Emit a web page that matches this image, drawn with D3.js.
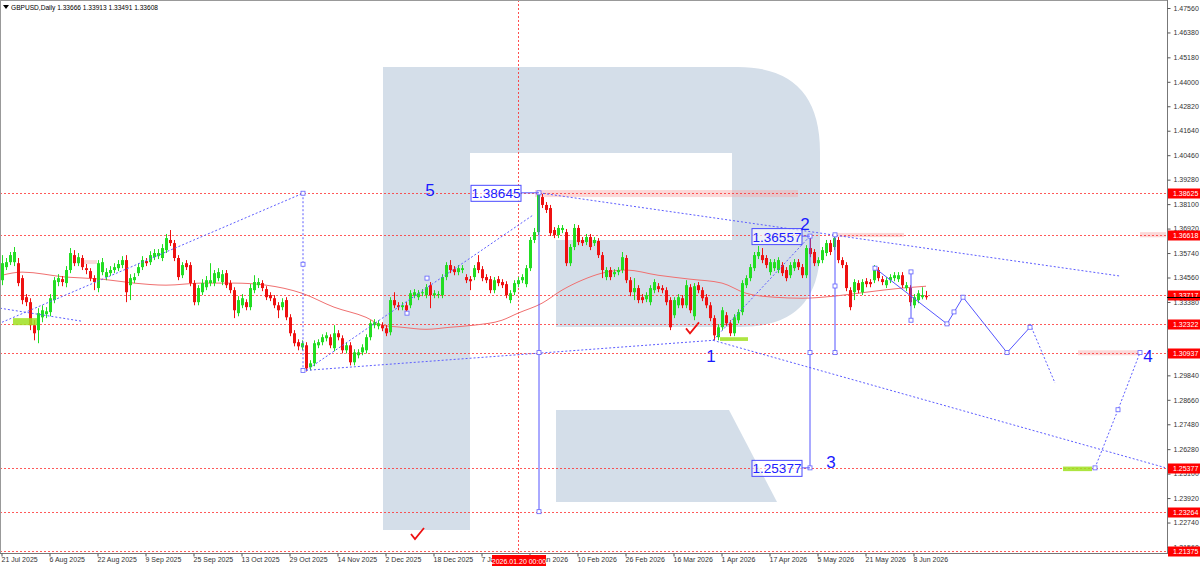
<!DOCTYPE html>
<html><head><meta charset="utf-8">
<script src="https://cdn.jsdelivr.net/npm/d3@7/dist/d3.min.js"></script>
<style>body{margin:0;background:#fff;}svg{display:block;font-family:"Liberation Sans",Arial,sans-serif;}</style>
</head><body><svg id="c" width="1200" height="569"></svg>
<script>
// ---------- DATA ----------
const symbolTitle = "GBPUSD,Daily";
const headerOHLC = ["1.33666", "1.33913", "1.33491", "1.33608"];
const dateTickLabels = ["21 Jul 2025","6 Aug 2025","22 Aug 2025","9 Sep 2025","25 Sep 2025","13 Oct 2025","29 Oct 2025","14 Nov 2025","2 Dec 2025","18 Dec 2025","7 Jan 2026","23 Jan 2026","10 Feb 2026","26 Feb 2026","16 Mar 2026","1 Apr 2026","17 Apr 2026","5 May 2026","21 May 2026","8 Jun 2026"];
const barsPerDateTick = 12;
const priceTicks = [1.47560,1.46380,1.45180,1.44000,1.42820,1.41640,1.40460,1.39280,1.38100,1.36920,1.35740,1.34560,1.33380,1.32200,1.31020,1.29840,1.28660,1.27480,1.26280,1.25100,1.23920,1.22740,1.21560];
const levelPrices = [1.38625,1.36618,1.33717,1.32322,1.30937,1.25377,1.23264,1.21375];
const crosshairIndex = 129;  // 2026.01.20
const crosshairLabel = "2026.01.20 00:00";

const opens = [1.3443,1.3506,1.3530,1.3530,1.3525,1.3453,1.3361,1.3337,1.3226,1.3202,
1.3264,1.3279,1.3289,1.3347,1.3434,1.3448,1.3429,1.3492,1.3564,1.3525,
1.3550,1.3501,1.3487,1.3453,1.3405,1.3482,1.3458,1.3477,1.3492,1.3501,
1.3516,1.3540,1.3419,1.3443,1.3477,1.3506,1.3535,1.3530,1.3554,1.3559,
1.3550,1.3588,1.3637,1.3622,1.3550,1.3467,1.3525,1.3516,1.3429,1.3337,
1.3385,1.3409,1.3429,1.3429,1.3453,1.3434,1.3477,1.3429,1.3395,1.3284,
1.3322,1.3337,1.3313,1.3395,1.3419,1.3429,1.3400,1.3371,1.3356,1.3322,
1.3313,1.3347,1.3264,1.3187,1.3144,1.3119,1.3129,1.3023,1.3042,1.3129,
1.3144,1.3163,1.3168,1.3115,1.3187,1.3163,1.3105,1.3129,1.3047,1.3081,
1.3095,1.3105,1.3168,1.3226,1.3221,1.3226,1.3211,1.3192,1.3347,1.3322,
1.3313,1.3322,1.3322,1.3371,1.3361,1.3380,1.3371,1.3419,1.3371,1.3371,
1.3371,1.3458,1.3516,1.3496,1.3482,1.3492,1.3458,1.3448,1.3458,1.3530,
1.3496,1.3458,1.3448,1.3395,1.3448,1.3434,1.3424,1.3347,1.3385,1.3424,
1.3443,1.3424,1.3501,1.3637,1.3675,1.3844,1.3806,1.3791,1.3685,1.3661,
1.3685,1.3675,1.3525,1.3603,1.3695,1.3637,1.3627,1.3651,1.3622,1.3632,
1.3564,1.3458,1.3492,1.3472,1.3482,1.3492,1.3550,1.3443,1.3385,1.3405,
1.3361,1.3351,1.3337,1.3395,1.3414,1.3405,1.3395,1.3347,1.3274,1.3322,
1.3356,1.3322,1.3409,1.3269,1.3419,1.3395,1.3361,1.3322,1.3260,1.3168,
1.3216,1.3274,1.3235,1.3187,1.3250,1.3289,1.3419,1.3453,1.3501,1.3559,
1.3564,1.3550,1.3482,1.3501,1.3492,1.3516,1.3492,1.3467,1.3501,1.3530,
1.3506,1.3467,1.3598,1.3579,1.3525,1.3540,1.3574,1.3622,1.3603,1.3637,
1.3540,1.3516,1.3395,1.3385,1.3429,1.3385,1.3438,1.3434,1.3443,1.3492,
1.3448,1.3419,1.3443,1.3453,1.3448,1.3467,1.3405,1.3405,1.3322,1.3347,
1.3361,1.33666];
const highs = [1.3564,1.3550,1.3579,1.3603,1.3550,1.3467,1.3376,1.3356,1.3250,1.3308,
1.3322,1.3313,1.3376,1.3458,1.3472,1.3463,1.3511,1.3598,1.3588,1.3574,
1.3564,1.3521,1.3501,1.3467,1.3540,1.3550,1.3501,1.3511,1.3525,1.3540,
1.3559,1.3564,1.3472,1.3477,1.3525,1.3559,1.3550,1.3583,1.3593,1.3593,
1.3617,1.3666,1.3685,1.3637,1.3564,1.3530,1.3540,1.3530,1.3443,1.3419,
1.3448,1.3463,1.3525,1.3492,1.3501,1.3492,1.3492,1.3443,1.3409,1.3366,
1.3376,1.3351,1.3424,1.3467,1.3453,1.3443,1.3414,1.3385,1.3371,1.3337,
1.3356,1.3361,1.3279,1.3202,1.3158,1.3153,1.3144,1.3057,1.3153,1.3158,
1.3182,1.3192,1.3182,1.3226,1.3202,1.3177,1.3144,1.3144,1.3110,1.3110,
1.3134,1.3182,1.3250,1.3255,1.3250,1.3240,1.3226,1.3361,1.3385,1.3337,
1.3337,1.3337,1.3395,1.3400,1.3395,1.3400,1.3424,1.3434,1.3395,1.3390,
1.3472,1.3530,1.3540,1.3511,1.3516,1.3516,1.3472,1.3463,1.3516,1.3564,
1.3511,1.3472,1.3463,1.3458,1.3463,1.3448,1.3438,1.3395,1.3443,1.3458,
1.3472,1.3516,1.3651,1.3695,1.38645,1.3859,1.3820,1.3806,1.3699,1.3709,
1.3709,1.3690,1.3617,1.3714,1.3709,1.3651,1.3666,1.3666,1.3651,1.3646,
1.3579,1.3506,1.3506,1.3496,1.3506,1.3579,1.3564,1.3458,1.3453,1.3419,
1.3376,1.3385,1.3419,1.3448,1.3429,1.3419,1.3409,1.3361,1.3361,1.3376,
1.3371,1.3443,1.3424,1.3429,1.3434,1.3409,1.3376,1.3337,1.3274,1.3231,
1.3313,1.3289,1.3250,1.3279,1.3303,1.3443,1.3467,1.3521,1.3579,1.3608,
1.3598,1.3564,1.3545,1.3545,1.3554,1.3530,1.3506,1.3530,1.3545,1.3545,
1.3521,1.3612,1.36557,1.3593,1.3554,1.3603,1.3637,1.3637,1.36618,1.3651,
1.3554,1.3530,1.3409,1.3448,1.3443,1.3448,1.3453,1.3448,1.3516,1.3506,
1.3463,1.3458,1.3472,1.3482,1.3482,1.3482,1.3434,1.3419,1.3376,1.3395,
1.3409,1.33913];
const lows = [1.3419,1.3492,1.3516,1.3511,1.3414,1.3327,1.3318,1.3202,1.3153,1.3139,
1.3240,1.3260,1.3269,1.3332,1.3414,1.3414,1.3409,1.3477,1.3511,1.3511,
1.3492,1.3472,1.3438,1.3395,1.3385,1.3467,1.3443,1.3463,1.3477,1.3487,
1.3501,1.3337,1.3347,1.3429,1.3463,1.3492,1.3511,1.3516,1.3540,1.3545,
1.3535,1.3574,1.3608,1.3535,1.3443,1.3453,1.3492,1.3414,1.3322,1.3322,
1.3371,1.3395,1.3414,1.3414,1.3438,1.3419,1.3405,1.3380,1.3260,1.3269,
1.3308,1.3298,1.3298,1.3380,1.3405,1.3390,1.3347,1.3342,1.3308,1.3260,
1.3298,1.3250,1.3173,1.3124,1.3105,1.3105,1.3003,1.3008,1.3028,1.3115,
1.3129,1.3148,1.3115,1.3100,1.3153,1.3090,1.3090,1.3032,1.3032,1.3066,
1.3081,1.3090,1.3153,1.3211,1.3206,1.3197,1.3173,1.3177,1.3308,1.3298,
1.3298,1.3284,1.3308,1.3356,1.3347,1.3366,1.3356,1.3308,1.3356,1.3356,
1.3356,1.3443,1.3477,1.3467,1.3467,1.3477,1.3429,1.3395,1.3443,1.3477,
1.3438,1.3429,1.3380,1.3380,1.3414,1.3405,1.3356,1.3332,1.3371,1.3409,
1.3429,1.3409,1.3487,1.3622,1.3661,1.3791,1.3767,1.3656,1.3646,1.3646,
1.3670,1.3511,1.3511,1.3588,1.3612,1.3608,1.3612,1.3588,1.3608,1.3550,
1.3453,1.3443,1.3443,1.3458,1.3467,1.3477,1.3429,1.3366,1.3347,1.3332,
1.3332,1.3337,1.3322,1.3380,1.3385,1.3380,1.3322,1.3202,1.3260,1.3308,
1.3308,1.3308,1.3284,1.3250,1.3380,1.3342,1.3308,1.3245,1.3153,1.3153,
1.3202,1.3221,1.3173,1.3173,1.3235,1.3274,1.3405,1.3438,1.3487,1.3545,
1.3525,1.3501,1.3467,1.3487,1.3477,1.3463,1.3438,1.3453,1.3487,1.3492,
1.3453,1.3453,1.3554,1.3511,1.3511,1.3525,1.3559,1.3564,1.3588,1.3525,
1.3501,1.3390,1.3298,1.3347,1.3380,1.3371,1.3409,1.3409,1.3429,1.3438,
1.3419,1.3405,1.3429,1.3438,1.3434,1.3405,1.3390,1.3318,1.3308,1.3332,
1.3351,1.33491];
const closes = [1.3525,1.3530,1.3564,1.3579,1.3429,1.3347,1.3337,1.3226,1.3187,1.3284,
1.3298,1.3293,1.3356,1.3443,1.3453,1.3434,1.3492,1.3574,1.3525,1.3554,
1.3506,1.3492,1.3453,1.3434,1.3525,1.3530,1.3482,1.3492,1.3506,1.3521,
1.3540,1.3385,1.3453,1.3458,1.3506,1.3540,1.3525,1.3564,1.3574,1.3574,
1.3598,1.3646,1.3622,1.3550,1.3458,1.3516,1.3506,1.3429,1.3337,1.3405,
1.3429,1.3443,1.3443,1.3477,1.3482,1.3472,1.3419,1.3395,1.3298,1.3347,
1.3356,1.3313,1.3405,1.3434,1.3434,1.3405,1.3361,1.3356,1.3322,1.3298,
1.3337,1.3264,1.3187,1.3139,1.3124,1.3139,1.3018,1.3042,1.3139,1.3144,
1.3168,1.3177,1.3129,1.3187,1.3168,1.3105,1.3129,1.3047,1.3095,1.3095,
1.3119,1.3168,1.3235,1.3240,1.3235,1.3211,1.3187,1.3347,1.3322,1.3313,
1.3322,1.3298,1.3380,1.3385,1.3380,1.3385,1.3409,1.3371,1.3380,1.3376,
1.3458,1.3516,1.3492,1.3482,1.3501,1.3501,1.3443,1.3438,1.3501,1.3492,
1.3453,1.3443,1.3395,1.3443,1.3429,1.3419,1.3371,1.3380,1.3429,1.3443,
1.3458,1.3501,1.3637,1.3675,1.3854,1.3806,1.3782,1.3670,1.3661,1.3695,
1.3695,1.3525,1.3603,1.3695,1.3627,1.3622,1.3651,1.3603,1.3637,1.3564,
1.3492,1.3492,1.3458,1.3482,1.3492,1.3554,1.3443,1.3385,1.3405,1.3347,
1.3347,1.3371,1.3405,1.3434,1.3400,1.3395,1.3337,1.3216,1.3347,1.3361,
1.3322,1.3419,1.3298,1.3414,1.3395,1.3356,1.3322,1.3260,1.3177,1.3216,
1.3298,1.3235,1.3187,1.3264,1.3289,1.3429,1.3453,1.3506,1.3564,1.3579,
1.3540,1.3516,1.3530,1.3530,1.3540,1.3477,1.3453,1.3516,1.3530,1.3506,
1.3467,1.3598,1.3569,1.3525,1.3540,1.3588,1.3622,1.3579,1.3646,1.3540,
1.3516,1.3405,1.3313,1.3434,1.3395,1.3434,1.3424,1.3424,1.3501,1.3453,
1.3434,1.3443,1.3458,1.3467,1.3467,1.3419,1.3419,1.3337,1.3361,1.3380,
1.3371,1.33608];

// moving average: [bar index, price]
const maIndex = [0,5,16,25,33,41,50,58,66,75,83,91,95,100,106,112,118,125,129,135,140,145,150,156,164,172,180,186,193,200,208,216,225,231];
const maValue = [1.3467,1.3482,1.3458,1.3448,1.3429,1.3419,1.3429,1.3429,1.3419,1.3380,1.3313,1.3264,1.3226,1.3216,1.3206,1.3216,1.3226,1.3250,1.3284,1.3332,1.3395,1.3443,1.3477,1.3492,1.3467,1.3448,1.3429,1.3380,1.3361,1.3356,1.3366,1.3385,1.3405,1.3414];

// analysis drawings: points as [bar index, price]
const dottedLines = [
  [[-0.5,1.3308],[20,1.3245]],
  [[0,1.3240],[75.25,1.38625]],
  [[75.25,1.38625],[75.25,1.3008]],
  [[76,1.3008],[177.75,1.3153]],
  [[76,1.3008],[132.75,1.3757]],
  [[134.25,1.38645],[279.5,1.3463]],
  [[177.75,1.3153],[290.75,1.2539]],
  [[177.75,1.3153],[202,1.36557]],
  [[257,1.32322],[263.25,1.2947]],
  [[273.25,1.25377],[279,1.2818],[284.5,1.30937]]
];
const solidLines = [
  [[134.25,1.38645],[134.25,1.23264]],
  [[202,1.36557],[202,1.25377]],
  [[208.25,1.36618],[208.25,1.30937]],
  [[227.25,1.3483],[227.25,1.3250]],
  [[218.25,1.3501],[236.25,1.32322],[240.25,1.3361],[251.25,1.30937],[257,1.3216]]
];
const handlePoints = [[75.25,1.38625],[75.25,1.3008],[75.25,1.3520],[134.25,1.38645],[134.25,1.30937],[134.25,1.23264],[202,1.36557],[202,1.30937],[202,1.25377],[208.25,1.36618],[208.25,1.30937],[208.25,1.3415],[227.25,1.3483],[227.25,1.3250],[218.25,1.3501],[236.25,1.32322],[240.25,1.3361],[251.25,1.30937],[257,1.3216],[238,1.3290],[273.25,1.25377],[284.5,1.30937],[279,1.2818],[101.25,1.3284],[106.25,1.3453]];
const waveLabels = [["5",107,1.3849],["2",200.75,1.3685],["1",177.25,1.3047],["3",207.25,1.2537],["4",286.5,1.3047]];
const priceBoxes = [["1.38645",129.75,1.38645,134.25],["1.36557",200,1.36557,202],["1.25377",200,1.25377,202]];
const greenZones = [[2.75,8.75,1.3260,1.3226],[179.5,186.5,1.3168,1.3150],[265.25,272.5,1.2544,1.2522]];
const pinkZones = [[133.25,199,1.3878,1.3844],[208.5,225.5,1.3671,1.3651],[269,284,1.3105,1.3081],[20.25,23.75,1.3540,1.3521],[284.5,291,1.3675,1.3650]];
const checkMarks = [[103.75,1.2214],[172.5,1.3206]];

// ---------- CHART ----------
const svg = d3.select("#c");
const W = 1200, H = 569, plotRight = 1167, plotBottom = 553;
const x = d3.scaleLinear().domain([0, 231]).range([2, 926]);
const y = d3.scaleLinear().domain([1.21560, 1.47560]).range([547, 8]);
const X = i => Math.round(x(i));

svg.append("rect").attr("width", W).attr("height", H).attr("fill", "#fff");

// watermark logo (decoration)
const wm = svg.append("g").attr("fill", "#d4dee9");
wm.append("rect").attr("x", 383).attr("y", 67).attr("width", 87).attr("height", 463);
wm.append("path").attr("d", "M470,67 H738 Q820,67 820,152 V248 Q820,327 740,327 H556 V240 H732 V153 H470 Z");
wm.append("path").attr("d", "M556,410 H729 L777,502 H556 Z");

// pink zones
svg.append("g").selectAll("rect").data(pinkZones).join("rect")
  .attr("x", d => x(d[0])).attr("width", d => x(d[1]) - x(d[0]))
  .attr("y", d => y(d[2])).attr("height", d => y(d[3]) - y(d[2]))
  .attr("fill", "#f7a8a8").attr("opacity", 0.45);

// red dotted level lines
svg.append("g").selectAll("line").data(levelPrices).join("line")
  .attr("x1", 0).attr("x2", plotRight)
  .attr("y1", d => Math.round(y(d)) + 0.5).attr("y2", d => Math.round(y(d)) + 0.5)
  .attr("stroke", "#ff3030").attr("stroke-width", 1).attr("stroke-dasharray", "2,2").attr("opacity", 0.8);

// crosshair vertical
svg.append("line").attr("x1", X(crosshairIndex) + 0.5).attr("x2", X(crosshairIndex) + 0.5)
  .attr("y1", 0).attr("y2", plotBottom)
  .attr("stroke", "#ff3030").attr("stroke-dasharray", "2,2").attr("opacity", 0.85);

// moving average
svg.append("path").datum(maIndex.map((d, k) => [d, maValue[k]]))
  .attr("d", d3.line().x(d => x(d[0])).y(d => y(d[1])).curve(d3.curveMonotoneX))
  .attr("fill", "none").attr("stroke", "#f07070").attr("stroke-width", 1);

// candles
const bars = d3.range(closes.length).map(i => ({ i, o: opens[i], h: highs[i], l: lows[i], c: closes[i] }));
const up = "#22dd22", dn = "#ee1111";
const cg = svg.append("g");
cg.selectAll("line").data(bars).join("line")
  .attr("x1", d => X(d.i) + 0.5).attr("x2", d => X(d.i) + 0.5)
  .attr("y1", d => y(d.h)).attr("y2", d => y(d.l))
  .attr("stroke", d => d.c >= d.o ? up : dn).attr("stroke-width", 1);
cg.selectAll("rect").data(bars).join("rect")
  .attr("x", d => X(d.i) - 1).attr("width", 3)
  .attr("y", d => y(Math.max(d.o, d.c)))
  .attr("height", d => Math.max(1, Math.abs(y(d.o) - y(d.c))))
  .attr("fill", d => d.c >= d.o ? up : dn);

// green zones
svg.append("g").selectAll("rect").data(greenZones).join("rect")
  .attr("x", d => x(d[0])).attr("width", d => x(d[1]) - x(d[0]))
  .attr("y", d => y(d[2])).attr("height", d => y(d[3]) - y(d[2]))
  .attr("fill", "#9fe020").attr("opacity", 0.85);

// blue drawings
const ln = d3.line().x(d => x(d[0])).y(d => y(d[1]));
svg.append("g").selectAll("path").data(dottedLines).join("path")
  .attr("d", ln).attr("fill", "none").attr("stroke", "#5d5dff").attr("stroke-width", 1).attr("stroke-dasharray", "2,2");
svg.append("g").selectAll("path").data(solidLines).join("path")
  .attr("d", ln).attr("fill", "none").attr("stroke", "#5555ff").attr("stroke-width", 1);
svg.append("g").selectAll("rect").data(handlePoints).join("rect")
  .attr("x", d => x(d[0]) - 2).attr("y", d => y(d[1]) - 2).attr("width", 4).attr("height", 4)
  .attr("fill", "#fff").attr("stroke", "#6060ff").attr("stroke-width", 0.8);

// price boxes
const pb = svg.append("g").selectAll("g").data(priceBoxes).join("g");
pb.append("rect").attr("x", d => x(d[1]) - 50).attr("y", d => y(d[2]) - 7.5).attr("width", 50).attr("height", 16)
  .attr("fill", "#fff").attr("fill-opacity", 0.6).attr("stroke", "#4a4aff").attr("stroke-width", 1);
pb.append("text").attr("x", d => x(d[1]) - 25).attr("y", d => y(d[2]) + 5.5)
  .attr("text-anchor", "middle").attr("font-size", 13.5).attr("fill", "#2020ff").text(d => d[0]);
pb.append("line").attr("x1", d => x(d[1])).attr("x2", d => x(d[3]))
  .attr("y1", d => y(d[2])).attr("y2", d => y(d[2])).attr("stroke", "#5555ff");

// wave labels
svg.append("g").selectAll("text").data(waveLabels).join("text")
  .attr("x", d => x(d[1])).attr("y", d => y(d[2])).attr("text-anchor", "middle")
  .attr("font-size", 17).attr("fill", "#1a1aff").text(d => d[0]);

// check marks
svg.append("g").selectAll("path").data(checkMarks).join("path")
  .attr("transform", d => `translate(${x(d[0])},${y(d[1])})`)
  .attr("d", "M-6,-1 L-2,4 L7,-7").attr("fill", "none").attr("stroke", "#ee1111").attr("stroke-width", 1.8);

// frame / axes
svg.append("line").attr("x1", plotRight + 0.5).attr("x2", plotRight + 0.5).attr("y1", 0).attr("y2", plotBottom + 1).attr("stroke", "#777");
svg.append("line").attr("x1", 0).attr("x2", plotRight + 1).attr("y1", plotBottom + 0.5).attr("y2", plotBottom + 0.5).attr("stroke", "#777");
svg.append("line").attr("x1", 0.5).attr("x2", 0.5).attr("y1", 0).attr("y2", plotBottom).attr("stroke", "#999");
svg.append("line").attr("x1", 0).attr("x2", plotRight).attr("y1", 0.5).attr("y2", 0.5).attr("stroke", "#999");

const yAxis = svg.append("g").attr("transform", `translate(${plotRight + 0.5},0)`)
  .call(d3.axisRight(y).tickValues(priceTicks).tickFormat(d3.format(".5f")).tickSize(3).tickPadding(3));
yAxis.select(".domain").remove();
yAxis.selectAll("text").attr("font-size", 7).attr("fill", "#333").attr("font-family", "Liberation Sans, Arial, sans-serif");
yAxis.selectAll("line").attr("stroke", "#555");

const dateIdx = dateTickLabels.map((d, k) => k * barsPerDateTick);
const xAxis = svg.append("g").attr("transform", `translate(0,${plotBottom + 0.5})`)
  .call(d3.axisBottom(x).tickValues(dateIdx).tickFormat((d, k) => dateTickLabels[k]).tickSize(3).tickPadding(1));
xAxis.select(".domain").remove();
xAxis.selectAll("text").attr("font-size", 7).attr("fill", "#333").attr("text-anchor", "start").attr("dx", -1)
  .attr("font-family", "Liberation Sans, Arial, sans-serif");
xAxis.selectAll("line").attr("stroke", "#555").attr("transform", "translate(-0.5,0)");

// level price labels on axis
const lv = svg.append("g").selectAll("g").data(levelPrices).join("g");
lv.append("rect").attr("x", plotRight + 1).attr("y", d => Math.round(y(d)) - 4.5).attr("width", 33).attr("height", 10).attr("fill", "#ff0000");
lv.append("text").attr("x", plotRight + 6).attr("y", d => Math.round(y(d)) + 3).attr("font-size", 7).attr("fill", "#fff").text(d => d3.format(".5f")(d));

// current price marker
svg.append("line").attr("x1", plotRight).attr("x2", W).attr("y1", Math.round(y(closes[closes.length - 1])) + 0.5)
  .attr("y2", Math.round(y(closes[closes.length - 1])) + 0.5).attr("stroke", "#000");

// crosshair date label
svg.append("rect").attr("x", X(crosshairIndex) - 26).attr("y", plotBottom + 2).attr("width", 54).attr("height", 11).attr("fill", "#ff0000");
svg.append("text").attr("x", X(crosshairIndex) + 1).attr("y", plotBottom + 10.5).attr("text-anchor", "middle")
  .attr("font-size", 7).attr("fill", "#fff").text(crosshairLabel);

// header
svg.append("path").attr("d", "M3,5 L9,5 L6,9 Z").attr("fill", "#000");
svg.append("text").attr("x", 11).attr("y", 10).attr("font-size", 6.6).attr("fill", "#000")
  .text(symbolTitle + "  " + headerOHLC.join(" "));
</script>
</body></html>
